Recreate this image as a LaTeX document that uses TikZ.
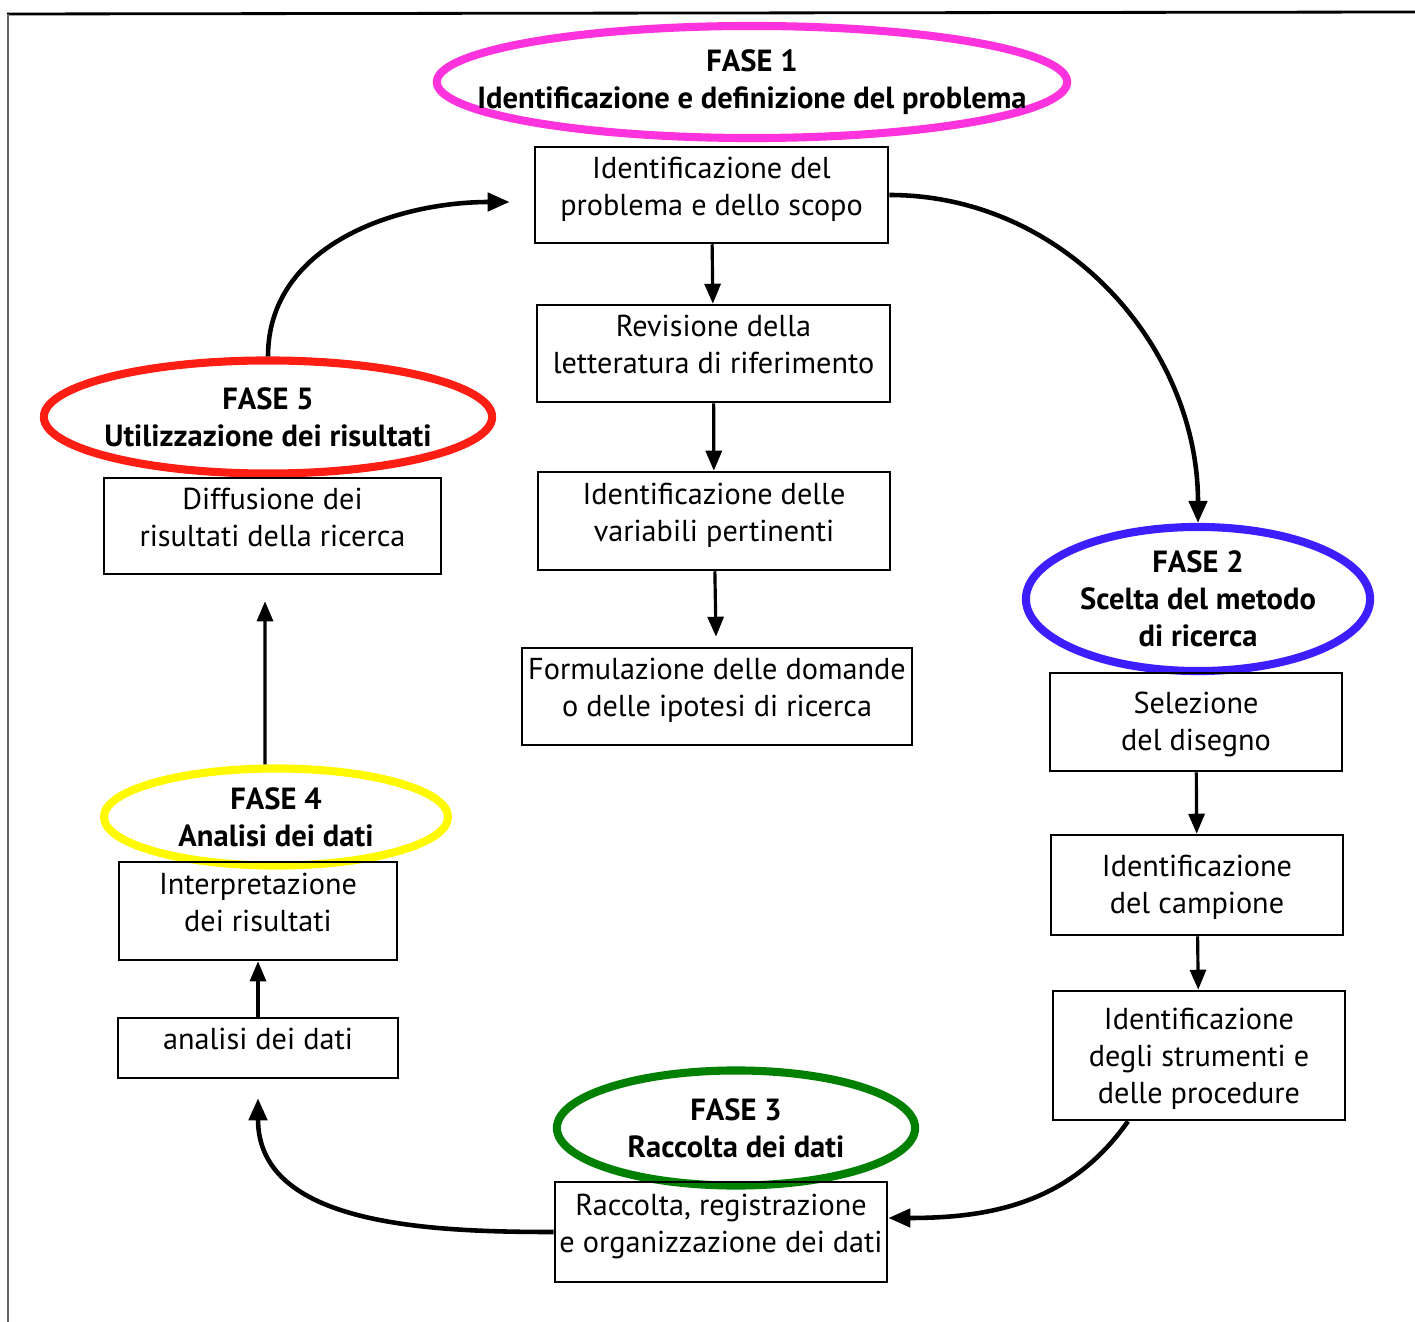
\documentclass[tikz,border=0pt]{standalone}
\usepackage{fontspec}
\setmainfont{PT Sans}
\usetikzlibrary{arrows.meta,shapes.geometric}

\definecolor{fasemagenta}{RGB}{255,51,221}
\definecolor{fasered}{RGB}{255,30,20}
\definecolor{faseblue}{RGB}{60,30,255}
\definecolor{faseyellow}{RGB}{255,250,0}
\definecolor{fasegreen}{RGB}{0,128,0}

\begin{document}
\begin{tikzpicture}[x=0.01cm,y=-0.01cm,
  box/.style={draw,line width=.7pt,align=center,inner sep=0pt,text depth=.18cm,font=\fontsize{8.6}{10.5}\selectfont},
  fase/.style={ellipse,line width=2.3pt,inner sep=0pt},
  ftext/.style={align=center,inner sep=0pt,font=\bfseries\fontsize{8.7}{10.5}\selectfont},
  flow/.style={line width=.9pt,-{Triangle[length=.2cm,width=.16cm]}},
  loop/.style={line width=1.3pt,-{Triangle[length=.22cm,width=.18cm]}}]
\useasboundingbox (0,0) rectangle (1415,1322);
% page frame of the scan
\draw[line width=.8pt] (7,14) -- (1415,12);
\draw[black!60,line width=.6pt] (8,14) -- (8,1322);
% fase 1
\node[fase,draw=fasemagenta,minimum width=6.3cm,minimum height=1.12cm,
  label={[ftext]center:FASE 1\\Identificazione e definizione del problema}] (fase1) at (752,82) {};
\node[box,minimum width=3.53cm,minimum height=.96cm] (ident) at (711.5,195) {Identificazione del\\problema e dello scopo};
\node[box,minimum width=3.53cm,minimum height=.97cm] (revis) at (713.5,353.5) {Revisione della\\letteratura di riferimento};
\node[box,minimum width=3.52cm,minimum height=.98cm] (variab) at (714,521) {Identificazione delle\\variabili pertinenti};
\node[box,minimum width=3.90cm,minimum height=.97cm] (formul) at (717,696.5) {Formulazione delle domande\\o delle ipotesi di ricerca};
% fase 2
\node[fase,draw=faseblue,minimum width=3.44cm,minimum height=1.44cm,
  label={[ftext]center:FASE 2\\Scelta del metodo\\di ricerca}] (fase2) at (1198,599) {};
\node[box,minimum width=2.92cm,minimum height=.98cm,text depth=.02cm] (selez) at (1196,722) {Selezione\\del disegno};
\node[box,minimum width=2.92cm,minimum height=1.00cm,text depth=.02cm] (campione) at (1197,885) {Identificazione\\del campione};
\node[box,minimum width=2.92cm,minimum height=1.29cm,text depth=0pt] (strum) at (1199,1055.5) {Identificazione\\degli strumenti e\\delle procedure};
% fase 3
\node[fase,draw=fasegreen,minimum width=3.58cm,minimum height=1.15cm,
  label={[ftext]center:FASE 3\\Raccolta dei dati}] (fase3) at (736,1128) {};
\node[box,minimum width=3.32cm,minimum height=1.00cm] (raccolta) at (721,1232) {Raccolta, registrazione\\e organizzazione dei dati};
% fase 4
\node[fase,draw=faseyellow,minimum width=3.44cm,minimum height=.97cm,
  label={[ftext]center:FASE 4\\Analisi dei dati}] (fase4) at (276,817) {};
\node[box,minimum width=2.78cm,minimum height=.98cm] (interp) at (258,911) {Interpretazione\\dei risultati};
\node[box,minimum width=2.80cm,minimum height=.60cm] (analisi) at (258,1048) {analisi dei dati};
% fase 5
\node[fase,draw=fasered,minimum width=4.48cm,minimum height=1.13cm,
  label={[ftext]center:FASE 5\\Utilizzazione dei risultati}] (fase5) at (268,417) {};
\node[box,minimum width=3.37cm,minimum height=.96cm] (diffus) at (272.5,526) {Diffusione dei\\risultati della ricerca};
% arrows
\draw[flow] (ident) -- (revis);
\draw[flow] (revis) -- (variab);
\draw[flow,shorten >=.1cm] (variab) -- (formul);
\draw[flow] (selez) -- (campione);
\draw[flow] (campione) -- (strum);
\draw[flow] (analisi) -- (interp);
\draw[flow] ([xshift=-.11cm]fase4.north) -- ([xshift=-.075cm,yshift=-.26cm]diffus.south);
\draw[loop] (fase5.north) to[out=90,in=180] ([xshift=-.24cm,yshift=-.07cm]ident.west);
\draw[loop] (ident.east) to[out=0,in=90] (fase2.north);
\draw[loop] ([xshift=-.71cm]strum.south) to[out=-125,in=0] ([yshift=.14cm]raccolta.east);
\draw[loop] (raccolta.west) to[out=180,in=-90] ([yshift=-.19cm]analisi.south);
\end{tikzpicture}
\end{document}
